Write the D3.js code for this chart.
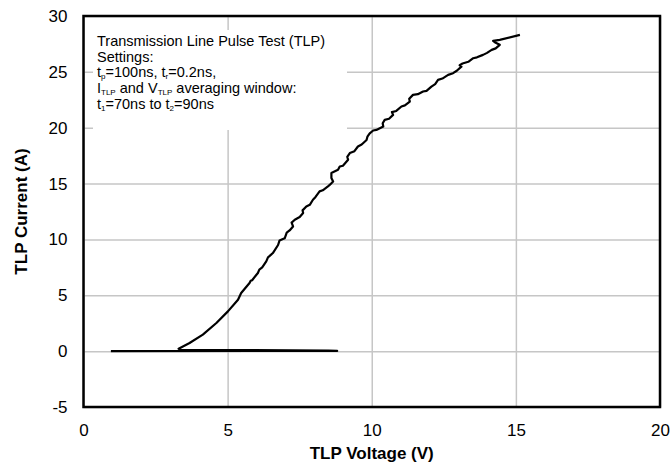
<!DOCTYPE html>
<html><head><meta charset="utf-8">
<script src="https://cdn.jsdelivr.net/npm/d3@7"></script>
<style>body{margin:0;background:#fff;} text{font-family:"Liberation Sans",Arial,sans-serif;}</style>
</head><body>
<svg id="c" width="671" height="463"></svg>
<script>
const voltage = [0.95,8.8,8.5,3.35,3.3,3.68,4.14,4.61,5.01,5.36,5.47,5.76,5.8,5.85,6.05,6.1,6.2,6.34,6.4,6.45,6.57,6.75,6.8,6.98,7.05,7.15,7.27,7.22,7.33,7.5,7.62,7.6,7.73,7.85,7.96,8.05,8.19,8.3,8.48,8.55,8.66,8.6,8.6,8.83,8.89,9.0,9.18,9.15,9.24,9.4,9.52,9.65,9.82,9.85,9.93,10.05,10.16,10.4,10.38,10.45,10.6,10.74,10.7,10.85,11.03,11.15,11.32,11.3,11.43,11.6,11.78,11.9,12.07,12.2,12.3,12.45,12.65,12.82,12.95,13.11,13.05,13.15,13.35,13.52,13.65,13.86,14.0,14.16,14.3,14.44,14.3,14.21,14.44,15.14];
const current = [0,0.02,0.05,0.12,0.22,0.73,1.48,2.52,3.56,4.6,5.2,6.1,6.3,6.35,7.0,7.3,7.5,8.03,8.4,8.5,8.78,9.5,9.9,10.1,10.6,10.8,11.16,11.5,11.76,12.0,12.36,12.6,12.95,13.1,13.55,13.8,14.3,14.4,14.74,14.9,15.19,15.5,15.94,16.23,16.53,16.6,17.13,17.4,17.73,17.9,18.32,18.5,18.9,19.2,19.5,19.75,19.8,20.1,20.4,20.7,20.8,21.15,21.4,21.5,21.9,22.0,22.34,22.6,22.94,23.0,23.24,23.3,23.68,23.9,24.28,24.4,24.73,24.88,25.1,25.47,25.6,25.75,25.9,26.22,26.3,26.52,26.7,26.97,27.1,27.42,27.6,27.78,27.86,28.31];
const xTicks = [0,5,10,15,20];
const yTicks = [-5,0,5,10,15,20,25,30];
const xTitle = "TLP Voltage (V)";
const yTitle = "TLP Current (A)";

const svg = d3.select("#c");
const L=83.5,R=660,T=16,B=407;
const x = d3.scaleLinear().domain([0,20]).range([L,R]);
const y = d3.scaleLinear().domain([-5,30]).range([B,T]);
const grid="#c6c6c6";
const fmt = d => String(d);

svg.append("g").attr("transform",`translate(0,${B})`)
  .call(d3.axisBottom(x).tickValues(xTicks).tickSize(-(B-T)).tickFormat(""))
  .call(g=>{g.select(".domain").remove();g.selectAll("line").attr("stroke",grid).attr("stroke-width",1.5);});
svg.append("g").attr("transform",`translate(${L},0)`)
  .call(d3.axisLeft(y).tickValues(yTicks).tickSize(-(R-L)).tickFormat(""))
  .call(g=>{g.select(".domain").remove();g.selectAll("line").attr("stroke",grid).attr("stroke-width",1.5);});

// tick labels
svg.append("g").attr("transform",`translate(0,${B})`)
  .call(d3.axisBottom(x).tickValues(xTicks).tickSize(0).tickPadding(17).tickFormat(fmt))
  .call(g=>{g.select(".domain").remove();g.selectAll("text").attr("font-size",17).attr("fill","#000").attr("font-family","Liberation Sans, Arial, sans-serif");});
svg.append("g").attr("transform",`translate(${L},0)`)
  .call(d3.axisLeft(y).tickValues(yTicks).tickSize(0).tickPadding(16).tickFormat(fmt))
  .call(g=>{g.select(".domain").remove();g.selectAll("text").attr("font-size",17).attr("fill","#000").attr("font-family","Liberation Sans, Arial, sans-serif");});

// annotation box
svg.append("rect").attr("x",93).attr("y",30).attr("width",254).attr("height",100).attr("fill","#fff");

const pts = voltage.map((v,i)=>[v,current[i]]);
svg.append("path").datum(pts)
  .attr("d",d3.line().x(d=>x(d[0])).y(d=>y(d[1])))
  .attr("fill","none").attr("stroke","#000").attr("stroke-width",2.2).attr("stroke-linejoin","round");

svg.append("rect").attr("x",L).attr("y",T).attr("width",R-L).attr("height",B-T)
  .attr("fill","none").attr("stroke","#000").attr("stroke-width",2.5);

const lines = [
  [["Transmission Line Pulse Test (TLP)",0]],
  [["Settings:",0]],
  [["t",0],["p",1],["=100ns, t",0],["r",1],["=0.2ns,",0]],
  [["I",0],["TLP",1],[" and V",0],["TLP",1],[" averaging window:",0]],
  [["t",0],["1",1],["=70ns to t",0],["2",1],["=90ns",0]]
];
const baselines = [46,61.5,77,92.5,109];
lines.forEach((ln,i)=>{
  const base = baselines[i];
  const t = svg.append("text").attr("x",97).attr("y",base).attr("font-size",14.5).attr("fill","#000");
  ln.forEach(([s,sub])=>{
    t.append("tspan").text(s).attr("y", sub? base+2 : base).attr("font-size", sub?8:14.5);
  });
});

svg.append("text").attr("x",(L+R)/2).attr("y",459).attr("text-anchor","middle")
  .attr("font-size",17).attr("font-weight","bold").text(xTitle);
svg.append("text").attr("transform",`translate(27,${(T+B)/2}) rotate(-90)`).attr("text-anchor","middle")
  .attr("font-size",17).attr("font-weight","bold").text(yTitle);
</script>
</body></html>
